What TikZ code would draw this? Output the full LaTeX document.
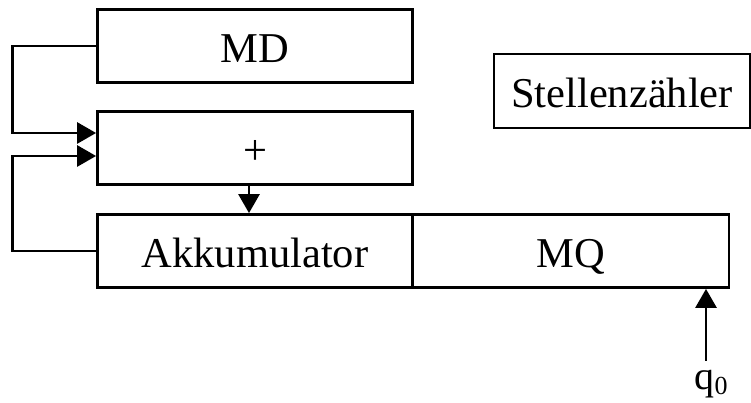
\documentclass[tikz,border=0pt]{standalone}
\usepackage{fontspec}
\setmainfont{Liberation Serif}
\usetikzlibrary{arrows.meta}
\begin{document}
\begin{tikzpicture}[x=1pt,y=1pt,
  reg/.style={draw, line width=2.8pt, minimum height=73pt, inner sep=0pt,
    text height=34pt, text depth=0pt,
    font=\fontsize{42.5}{46}\selectfont},
  arr/.style={line width=2.8pt, -{Triangle[length=19pt,width=21pt]}}]
\useasboundingbox (0,0) rectangle (751,403);
% registers
\node[reg, minimum width=315pt] (md)   at (255,357) {MD};
\node[reg, minimum width=315pt] (plus) at (255,255) {+};
\node[reg, minimum width=315pt] (akk)  at (255,152) {Akkumulator};
\node[reg, minimum width=316pt] (mq)   at (571,152) {MQ};
\node[reg, minimum width=256pt, minimum height=74pt] (sz) at (622,312) {Stellenzähler};
% input bit
\node[inner sep=0pt, anchor=base, font=\fontsize{40}{44}\selectfont] (q0) at (711,13)
  {q{\fontsize{26}{28}\selectfont\raisebox{-5pt}{0}}};
% data paths
\draw[arr] (md.west) -- ++(-83.5,0) |- ([yshift=15pt]plus.west);
\draw[arr] (akk.west) -- ++(-83.5,0) |- ([yshift=-8pt]plus.west);
\draw[arr] ([xshift=-6pt]plus.south) -- ([xshift=-6pt]akk.north);
\coordinate (qtop) at (706,42);
\draw[arr] (qtop) -- (qtop |- mq.south);
\end{tikzpicture}
\end{document}
